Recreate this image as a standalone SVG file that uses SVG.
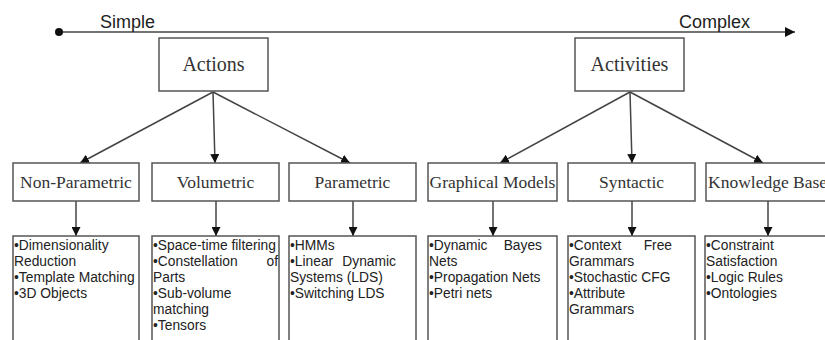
<svg xmlns="http://www.w3.org/2000/svg" width="825" height="340" viewBox="0 0 825 340">
<defs>
<marker id="ah" viewBox="0 0 10 10" refX="10" refY="5" markerWidth="9" markerHeight="9" markerUnits="userSpaceOnUse" orient="auto">
<path d="M0,0 L10,5 L0,10 z" fill="#111"/>
</marker>
<marker id="axh" viewBox="0 0 10 10" refX="10" refY="5" markerWidth="12" markerHeight="10" markerUnits="userSpaceOnUse" orient="auto">
<path d="M0,0 L10,5 L0,10 z" fill="#111"/>
</marker>
</defs>
<style>
.box{fill:#fff;stroke:#555;stroke-width:1.5}
.top{font-family:"Liberation Serif",serif;font-size:20px;fill:#333;text-anchor:middle}
.mid{font-family:"Liberation Serif",serif;font-size:17.5px;fill:#333;text-anchor:middle}
.ax{font-family:"Liberation Sans",Arial,sans-serif;font-size:18px;fill:#222}
.it{font-family:"Liberation Sans",Arial,sans-serif;font-size:13.8px;fill:#222}
.e{text-anchor:end}
.cn{stroke:#444;stroke-width:1.5;fill:none}
</style>
<rect width="825" height="340" fill="#fff"/>
<g id="axis">
<line x1="59" y1="32" x2="795" y2="32" stroke="#444" stroke-width="1.5" marker-end="url(#axh)"/>
<circle cx="59" cy="32" r="4" fill="#111"/>
<text class="ax" x="100" y="28">Simple</text>
<text class="ax" x="679" y="28">Complex</text>
</g>
<g id="connectors">
<line class="cn" x1="213" y1="92" x2="80" y2="163" marker-end="url(#ah)"/>
<line class="cn" x1="213" y1="92" x2="215" y2="163" marker-end="url(#ah)"/>
<line class="cn" x1="213" y1="92" x2="350" y2="163" marker-end="url(#ah)"/>
<line class="cn" x1="630" y1="92" x2="500" y2="163" marker-end="url(#ah)"/>
<line class="cn" x1="630" y1="92" x2="632" y2="163" marker-end="url(#ah)"/>
<line class="cn" x1="630" y1="92" x2="763" y2="163" marker-end="url(#ah)"/>
<line class="cn" x1="76" y1="201" x2="76" y2="236" marker-end="url(#ah)"/>
<line class="cn" x1="216" y1="201" x2="216" y2="236" marker-end="url(#ah)"/>
<line class="cn" x1="353" y1="201" x2="353" y2="236" marker-end="url(#ah)"/>
<line class="cn" x1="493" y1="201" x2="493" y2="236" marker-end="url(#ah)"/>
<line class="cn" x1="632" y1="201" x2="632" y2="236" marker-end="url(#ah)"/>
<line class="cn" x1="768" y1="201" x2="768" y2="236" marker-end="url(#ah)"/>
</g>
<g id="actions">
<rect class="box" x="159" y="38" width="109" height="53"/>
<text class="top" x="213.5" y="71">Actions</text>
</g>
<g id="activities">
<rect class="box" x="575" y="38" width="109" height="53"/>
<text class="top" x="629.5" y="71">Activities</text>
</g>
<g id="non-parametric">
<rect class="box" x="13" y="163" width="126" height="38"/>
<text class="mid" x="76" y="188">Non-Parametric</text>
</g>
<g id="volumetric">
<rect class="box" x="152" y="163" width="127" height="38"/>
<text class="mid" x="215.5" y="188">Volumetric</text>
</g>
<g id="parametric">
<rect class="box" x="289" y="163" width="127" height="38"/>
<text class="mid" x="352.5" y="188">Parametric</text>
</g>
<g id="graphical-models">
<rect class="box" x="428" y="163" width="129" height="38"/>
<text class="mid" x="492.5" y="188">Graphical Models</text>
</g>
<g id="syntactic">
<rect class="box" x="568" y="163" width="127" height="38"/>
<text class="mid" x="631.5" y="188">Syntactic</text>
</g>
<g id="knowledge-based">
<rect class="box" x="706" y="163" width="130" height="38"/>
<text class="mid" x="708" y="188" style="text-anchor:start">Knowledge Based</text>
</g>
<g id="non-parametric-list">
<rect class="box" x="13" y="236" width="126" height="120"/>
<text class="it" x="14" y="250">•Dimensionality</text>
<text class="it" x="14" y="266">Reduction</text>
<text class="it" x="14" y="282">•Template Matching</text>
<text class="it" x="14" y="298">•3D Objects</text>
</g>
<g id="volumetric-list">
<rect class="box" x="152" y="236" width="127" height="120"/>
<text class="it" x="153" y="250">•Space-time filtering</text>
<text class="it" x="153" y="266">•Constellation</text>
<text class="it e" x="278" y="266">of</text>
<text class="it" x="153" y="282">Parts</text>
<text class="it" x="153" y="298">•Sub-volume</text>
<text class="it" x="153" y="314">matching</text>
<text class="it" x="153" y="330">•Tensors</text>
</g>
<g id="parametric-list">
<rect class="box" x="289" y="236" width="127" height="120"/>
<text class="it" x="290" y="250">•HMMs</text>
<text class="it" x="290" y="266">•Linear</text>
<text class="it e" x="396" y="266">Dynamic</text>
<text class="it" x="290" y="282">Systems (LDS)</text>
<text class="it" x="290" y="298">•Switching LDS</text>
</g>
<g id="graphical-models-list">
<rect class="box" x="428" y="236" width="129" height="120"/>
<text class="it" x="429" y="250">•Dynamic</text>
<text class="it e" x="542" y="250">Bayes</text>
<text class="it" x="429" y="266">Nets</text>
<text class="it" x="429" y="282">•Propagation Nets</text>
<text class="it" x="429" y="298">•Petri nets</text>
</g>
<g id="syntactic-list">
<rect class="box" x="568" y="236" width="127" height="120"/>
<text class="it" x="569" y="250">•Context</text>
<text class="it e" x="672" y="250">Free</text>
<text class="it" x="569" y="266">Grammars</text>
<text class="it" x="569" y="282">•Stochastic CFG</text>
<text class="it" x="569" y="298">•Attribute</text>
<text class="it" x="569" y="314">Grammars</text>
</g>
<g id="knowledge-based-list">
<rect class="box" x="705" y="236" width="131" height="120"/>
<text class="it" x="706" y="250">•Constraint</text>
<text class="it" x="706" y="266">Satisfaction</text>
<text class="it" x="706" y="282">•Logic Rules</text>
<text class="it" x="706" y="298">•Ontologies</text>
</g>
</svg>
